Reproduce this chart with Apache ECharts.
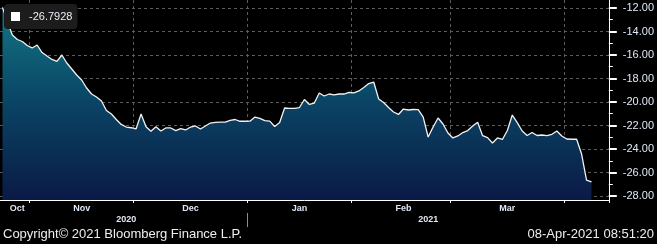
<!DOCTYPE html>
<html><head><meta charset="utf-8">
<script src="https://cdn.jsdelivr.net/npm/echarts@6/dist/echarts.min.js"></script>
<style>html,body{margin:0;padding:0;background:#000;}#c{width:657px;height:244px;}</style>
</head><body><div id="c"></div>
<script>
const categories = [
 '2020-10-23','2020-10-26','2020-10-27','2020-10-28','2020-10-29','2020-10-30',
 '2020-11-02','2020-11-03','2020-11-04','2020-11-05','2020-11-06','2020-11-09','2020-11-10','2020-11-11','2020-11-12','2020-11-13',
 '2020-11-16','2020-11-17','2020-11-18','2020-11-19','2020-11-20','2020-11-23','2020-11-24','2020-11-25','2020-11-26','2020-11-27','2020-11-30',
 '2020-12-01','2020-12-02','2020-12-03','2020-12-04','2020-12-07','2020-12-08','2020-12-09','2020-12-10','2020-12-11',
 '2020-12-14','2020-12-15','2020-12-16','2020-12-17','2020-12-18','2020-12-21','2020-12-22','2020-12-23','2020-12-24','2020-12-25',
 '2020-12-28','2020-12-29','2020-12-30','2020-12-31',
 '2021-01-01','2021-01-04','2021-01-05','2021-01-06','2021-01-07','2021-01-08','2021-01-11','2021-01-12','2021-01-13','2021-01-14','2021-01-15',
 '2021-01-18','2021-01-19','2021-01-20','2021-01-21','2021-01-22','2021-01-25','2021-01-26','2021-01-27','2021-01-28','2021-01-29',
 '2021-02-01','2021-02-02','2021-02-03','2021-02-04','2021-02-05','2021-02-08','2021-02-09','2021-02-10','2021-02-11','2021-02-12',
 '2021-02-15','2021-02-16','2021-02-17','2021-02-18','2021-02-19','2021-02-22','2021-02-23','2021-02-24','2021-02-25','2021-02-26',
 '2021-03-01','2021-03-02','2021-03-03','2021-03-04','2021-03-05','2021-03-08','2021-03-09','2021-03-10','2021-03-11','2021-03-12',
 '2021-03-15','2021-03-16','2021-03-17','2021-03-18','2021-03-19','2021-03-22','2021-03-23','2021-03-24','2021-03-25','2021-03-26',
 '2021-03-29','2021-03-30','2021-03-31',
 '2021-04-01','2021-04-02','2021-04-05','2021-04-06','2021-04-07','2021-04-08','2021-04-09','2021-04-12','2021-04-13'
];
const values = [
 // Oct
 -11.95, -13.19, -14.30, -14.68, -14.85, -15.19,
 // Nov
 -15.40, -15.15, -15.79, -16.09, -16.38, -16.55, -16.00, -16.68, -17.19, -17.70,
 -18.13, -18.81, -19.32, -19.57, -19.91, -20.72, -21.02, -21.49, -21.91, -22.13, -22.19,
 // Dec
 -22.28, -21.02, -22.11, -22.49, -22.11, -22.47, -22.21, -22.21, -22.43, -22.27,
 -22.38, -22.13, -22.04, -22.30, -22.04, -21.79, -21.74, -21.72, -21.72, -21.57, -21.49, -21.64, -21.64,
 // Jan
 -21.63, -21.28, -21.40, -21.59, -21.63, -22.09, -21.74, -20.51, -20.54, -20.54,
 -20.47, -19.79, -20.21, -20.09, -19.23, -19.49, -19.32, -19.40, -19.32, -19.32, -19.19,
 // Feb
 -19.23, -19.06, -18.77, -18.43, -18.30, -19.74, -20.04, -20.47, -20.85, -21.06,
 -20.60, -20.68, -20.64, -20.65, -21.28, -22.98, -22.13, -21.36, -21.87, -22.64,
 // Mar
 -23.06, -22.89, -22.60, -22.43, -22.04, -21.73, -22.87, -23.03, -23.49, -23.06,
 -23.19, -22.43, -21.11, -21.76, -22.47, -22.85, -22.60, -22.85, -22.81, -22.87, -22.75, -22.47, -22.89,
 // Apr
 -23.15, -23.17, -23.17, -24.43, -26.64, -26.7928, null, null, null
];
const seriesName = '-26.7928';
const yTicks = [-28, -26, -24, -22, -20, -18, -16, -14, -12];
const yMinorTicks = [-27, -25, -23, -21, -19, -17, -15, -13];
const yMin = -28.34, yMax = -11.32;
const monthNames = {'01':'Jan','02':'Feb','03':'Mar','04':'Apr','05':'May','06':'Jun','07':'Jul','08':'Aug','09':'Sep','10':'Oct','11':'Nov','12':'Dec'};
const shownMonths = ['2020-10','2020-11','2020-12','2021-01','2021-02','2021-03'];
const footerLeft = 'Copyright\u00a9 2021 Bloomberg Finance L.P.';
const footerRight = '08-Apr-2021 08:51:20';

function groupBy(keyFn) {
  const g = [];
  categories.forEach((d, i) => {
    const k = keyFn(d);
    if (!g.length || g[g.length - 1].k !== k) g.push({k, s: i, e: i});
    else g[g.length - 1].e = i;
  });
  return g;
}
const months = groupBy(d => d.slice(0, 7));
const years = groupBy(d => d.slice(0, 4));
const monthTickIdx = new Set(months.slice(1).map(g => g.s));
const monthLabelIdx = new Set(months.filter(g => shownMonths.includes(g.k)).map(g => Math.ceil((g.s + g.e) / 2)));
const yearLabelIdx = new Set(years.map(g => Math.ceil((g.s + g.e) / 2)));

const labelColor = '#dfe8f6';
const narrow = "'Liberation Sans Narrow','Liberation Sans',Arial,sans-serif";

const chart = echarts.init(document.getElementById('c'), null, {renderer: 'canvas'});
chart.setOption({
  animation: false,
  backgroundColor: '#000',
  grid: {left: -5.3, right: 40.5, top: 0, bottom: 44, containLabel: false},
  legend: {
    left: 4, top: 4, padding: [7, 5, 7, 7], itemWidth: 9, itemHeight: 9, icon: 'rect',
    backgroundColor: '#1c1c1c', borderRadius: 4,
    textStyle: {color: '#e8eef8', fontSize: 11, fontFamily: narrow, padding: [0, 0, 0, 4]},
    data: [{name: seriesName, itemStyle: {color: '#ffffff'}}]
  },
  xAxis: [{
    type: 'category', data: categories, boundaryGap: true, position: 'bottom',
    axisLine: {onZero: false, lineStyle: {color: '#ffffff', width: 1}},
    axisTick: {show: true, interval: (i) => monthTickIdx.has(i), length: 3, lineStyle: {color: '#ffffff'}},
    axisLabel: {interval: (i) => monthLabelIdx.has(i), formatter: v => monthNames[v.slice(5, 7)],
      color: labelColor, fontSize: 9, fontWeight: 'bold', fontFamily: "'Liberation Sans',Arial,sans-serif", margin: 4},
    splitLine: {show: true, interval: (i) => monthTickIdx.has(i), lineStyle: {color: '#5c5c5c', type: [3, 3], width: 1}}
  }, {
    type: 'category', data: categories, boundaryGap: true, position: 'bottom',
    axisLine: {show: false}, axisTick: {show: false}, splitLine: {show: false},
    axisLabel: {interval: (i) => yearLabelIdx.has(i), formatter: v => v.slice(0, 4),
      color: labelColor, fontSize: 9, fontWeight: 'bold', fontFamily: "'Liberation Sans',Arial,sans-serif", margin: 15}
  }],
  yAxis: [{
    type: 'value', position: 'right', min: yMin, max: yMax,
    axisLine: {show: true, onZero: false, lineStyle: {color: '#ffffff', width: 1}},
    axisTick: {show: true, customValues: yTicks, length: 8, lineStyle: {color: '#ffffff', width: 2}},
    axisLabel: {customValues: yTicks, formatter: v => v.toFixed(2), color: labelColor, fontSize: 11, fontFamily: narrow, margin: 14},
    splitLine: {show: true, lineStyle: {color: '#5c5c5c', type: [3, 3], width: 1}}
  }, {
    type: 'value', position: 'right', min: yMin, max: yMax,
    axisLine: {show: false},
    axisTick: {show: true, customValues: yMinorTicks, length: 4, lineStyle: {color: '#ffffff', width: 1}},
    axisLabel: {show: false}, splitLine: {show: false}
  }],
  series: [{
    name: seriesName, type: 'line', data: values, xAxisIndex: 0, yAxisIndex: 0,
    showSymbol: false, symbol: 'none',
    itemStyle: {color: '#ffffff'},
    lineStyle: {color: '#f2f2f2', width: 1.3},
    areaStyle: {origin: 'start', opacity: 1, color: {type: 'linear', x: 0, y: 0, x2: 0, y2: 200, global: true,
      colorStops: [{offset: 0, color: '#147a88'}, {offset: 0.5, color: '#0a4565'}, {offset: 1, color: '#0a1a46'}]}}
  }]
});

const janIdx = years[1].s;
const xa = chart.convertToPixel({xAxisIndex: 0}, categories[janIdx]);
const xb = chart.convertToPixel({xAxisIndex: 0}, categories[janIdx + 1]);
const sepX = Math.round(xa - (xb - xa) / 2) + 0.5;
const gridBottomY = 200;
chart.setOption({
  graphic: [
    {type: 'line', shape: {x1: sepX, y1: gridBottomY + 13, x2: sepX, y2: gridBottomY + 27}, style: {stroke: '#8c8c8c', lineWidth: 1}},
    {type: 'text', x: 3, y: 234.5, style: {text: footerLeft, fill: '#eeeeee', font: '13px "Liberation Sans", Arial, sans-serif', textVerticalAlign: 'middle'}},
    {type: 'text', x: 654, y: 234.5, style: {text: footerRight, fill: '#eeeeee', font: '13px "Liberation Sans", Arial, sans-serif', textAlign: 'right', textVerticalAlign: 'middle'}}
  ]
});
</script></body></html>
